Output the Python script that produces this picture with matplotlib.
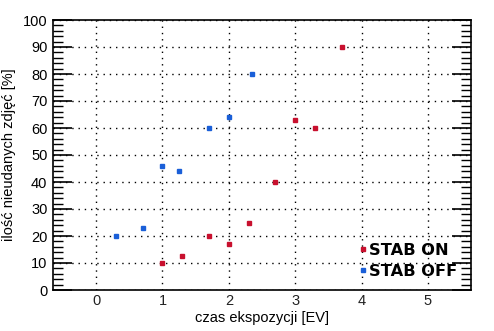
import matplotlib
matplotlib.use("Agg")
import matplotlib.pyplot as plt
from matplotlib.ticker import MultipleLocator

stab_on_x = [1.0, 1.3, 1.7, 2.0, 2.3, 2.7, 3.0, 3.3, 3.7]
stab_on_y = [10, 12.5, 20, 17, 25, 40, 63, 60, 90]
stab_off_x = [0.3, 0.7, 1.0, 1.25, 1.7, 2.0, 2.35]
stab_off_y = [20, 23, 46, 44, 60, 64, 80]
xticks = [0, 1, 2, 3, 4, 5]
yticks = [0, 10, 20, 30, 40, 50, 60, 70, 80, 90, 100]

plt.rcParams['font.family'] = ['Liberation Sans', 'DejaVu Sans']

fig = plt.figure(figsize=(4.94, 3.31), dpi=100)
ax = fig.add_axes([53/494, 1 - 290/331, (471-53)/494, (290-20)/331])

red = '#c8102e'
blue = '#1a5fd8'
ax.plot(stab_on_x, stab_on_y, 's', color=red, markersize=3.4, linestyle='none', label='STAB ON', zorder=3)
ax.plot(stab_off_x, stab_off_y, 's', color=blue, markersize=3.4, linestyle='none', label='STAB OFF', zorder=3)

ax.set_xlim(-0.65, 5.65)
ax.set_ylim(0, 100)
ax.set_xticks(xticks)
ax.set_yticks(yticks)
ax.yaxis.set_minor_locator(MultipleLocator(2))

ax.grid(True, which='major', color='black', linestyle=(0, (1, 3.5)), linewidth=1.0)

ax.tick_params(axis='x', which='both', length=0, labelsize=10.5, pad=3, colors='#222222', labelcolor='#222222')
ax.tick_params(axis='y', which='major', direction='in', length=14, width=1.2, left=True, right=True, labelsize=10.5, pad=4)
ax.tick_params(axis='y', which='minor', direction='in', length=7, width=1.0, left=True, right=True)
for s in ax.spines.values():
    s.set_linewidth(1.2)

ax.set_xlabel('czas ekspozycji [EV]', fontsize=10.5, labelpad=2)
ax.set_ylabel('ilość nieudanych zdjęć [%]', fontsize=10.5, labelpad=5)

leg = ax.legend(loc='lower right', bbox_to_anchor=(0.987, 0.01), frameon=False,
                handlelength=0.3, handletextpad=0.25, labelspacing=0.4, borderpad=0,
                prop={'weight': 'bold', 'size': 11.7, 'family': 'DejaVu Sans'}, markerscale=1.0)

fig.savefig('out.png', dpi=100)
